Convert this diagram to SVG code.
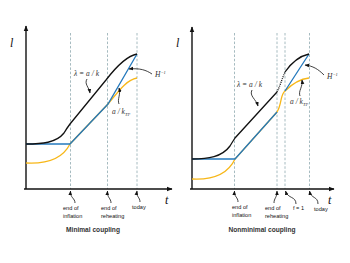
<svg xmlns="http://www.w3.org/2000/svg" width="350" height="263" viewBox="0 0 350 263">
<style>
.ax{stroke:#111;stroke-width:1.4;fill:none}
.dash{stroke:#8fa9b0;stroke-width:0.8;stroke-dasharray:2.5,1.8;fill:none}
.blk{stroke:#111;stroke-width:1.3;fill:none}
.blu{stroke:#2479bd;stroke-width:1.3;fill:none}
.yel{stroke:#f7b718;stroke-width:1.3;fill:none}
.ptr{stroke:#111;stroke-width:0.8;fill:none;marker-end:url(#ah)}
.lbl{font-family:"Liberation Serif",serif;font-style:italic;font-size:7.5px;fill:#333}
.axl{font-family:"Liberation Serif",serif;font-style:italic;font-size:12px;fill:#111}
.hand{font-family:"Liberation Sans",sans-serif;font-size:5.6px;fill:#111}
.cap{font-family:"Liberation Sans",sans-serif;font-weight:bold;font-size:6.6px;fill:#333;text-anchor:middle}
</style>
<defs>
<marker id="ah" viewBox="0 0 10 10" refX="9" refY="5" markerWidth="4.5" markerHeight="4.5" orient="auto" markerUnits="userSpaceOnUse">
<path d="M0,1 L10,5 L0,9 Z" fill="#111"/>
</marker>
<marker id="axh" viewBox="0 0 10 10" refX="9" refY="5" markerWidth="6" markerHeight="6" orient="auto" markerUnits="userSpaceOnUse">
<path d="M0,1 L10,5 L0,9 Z" fill="#111"/>
</marker>
</defs>

<g id="left-panel">
<g id="left-guides">
<line class="dash" x1="70.5" y1="33" x2="70.5" y2="189"/>
<line class="dash" x1="107.5" y1="33" x2="107.5" y2="189"/>
<line class="dash" x1="137" y1="33" x2="137" y2="189"/>
</g>
<g id="left-axes">
<line class="ax" x1="26" y1="189" x2="26" y2="26" marker-end="url(#axh)"/>
<line class="ax" x1="24" y1="189" x2="172" y2="189" marker-end="url(#axh)"/>
<text class="axl" x="10" y="47">l</text>
<text class="axl" x="165" y="204">t</text>
</g>
<g id="left-curves">
<path class="yel" d="M26,163 C45,164 62,160 70,144 L108,104 C118,92 126,80 137,78"/>
<path class="blu" d="M26,144 L70,144 L108,104 L137,54"/>
<path class="blk" d="M26,144 C42,144 56,143 64,133 Q67,128 70,124 L106,80 C116,67 126,56 137,54"/>
</g>
<g id="left-labels">
<text class="lbl" x="74" y="76">λ = a / k</text>
<path class="ptr" d="M87,79 C84,84 89,87 90,93"/>
<text class="lbl" x="155" y="77">H<tspan font-size="4.5" dy="-3">−1</tspan></text>
<path class="ptr" d="M152,74 C146,70 140,68 129,69"/>
<text class="lbl" x="112" y="114">a / k<tspan font-size="4.5" dy="1.5">TP</tspan></text>
<path class="ptr" d="M119,104 C117,99 121,95 119,88"/>
</g>
<g id="left-events">
<path class="ptr" d="M75,203 C75,198 70,198 70.5,191"/>
<text class="hand" x="63" y="210">end of</text>
<text class="hand" x="63" y="217.5">inflation</text>
<path class="ptr" d="M111,203 C111,198 107,198 107.5,191"/>
<text class="hand" x="101" y="210">end of</text>
<text class="hand" x="101" y="218">reheating</text>
<path class="ptr" d="M140,202 C140,197 136,197 137,191"/>
<text class="hand" x="132" y="209">today</text>
</g>
<text class="cap" x="93" y="232">Minimal coupling</text>
</g>

<g id="right-panel">
<g id="right-guides">
<line class="dash" x1="234.5" y1="33" x2="234.5" y2="189"/>
<line class="dash" x1="277" y1="33" x2="277" y2="189"/>
<line class="dash" x1="285" y1="33" x2="285" y2="189"/>
<line class="dash" x1="309.5" y1="33" x2="309.5" y2="189"/>
</g>
<g id="right-axes">
<line class="ax" x1="192" y1="189" x2="192" y2="27" marker-end="url(#axh)"/>
<line class="ax" x1="190" y1="189" x2="334" y2="189" marker-end="url(#axh)"/>
<text class="axl" x="176" y="47">l</text>
<text class="axl" x="328" y="204">t</text>
</g>
<g id="right-curves">
<path class="yel" d="M192,179 C212,180 228,174 235,159 L277,112 C282,104 280,95 285,91 C292,84 300,79 309,78"/>
<path class="blu" d="M192,159 L235,159 L277,112 M285,91 L309,54"/>
<path class="blk" d="M192,159 C208,159 222,157 230,146 Q233,141 235,138 L277,92"/>
<path class="blk" stroke-dasharray="1,1" d="M277,92 C280,86 282,79 285,72"/>
<path class="blk" d="M285,72 C292,62 300,56 309,54"/>
</g>
<g id="right-labels">
<text class="lbl" x="237" y="87">λ = a / k</text>
<path class="ptr" d="M252,90 C249,96 256,99 258,106"/>
<text class="lbl" x="327" y="79">H<tspan font-size="4.5" dy="-3">−1</tspan></text>
<path class="ptr" d="M324,75 C318,69 313,66 305,65"/>
<text class="lbl" x="290" y="104">a / k<tspan font-size="4.5" dy="1.5">TP</tspan></text>
<path class="ptr" d="M300,96 C298,91 303,87 302,80"/>
</g>
<g id="right-events">
<path class="ptr" d="M238,202 C238,197 234,197 234.5,191"/>
<text class="hand" x="232" y="209">end of</text>
<text class="hand" x="232" y="217">inflation</text>
<path class="ptr" d="M274,203 C274,198 277,198 277,191"/>
<text class="hand" x="265" y="210">end of</text>
<text class="hand" x="265" y="218">reheating</text>
<path class="ptr" d="M296,204 C296,196 288,199 285.5,191"/>
<text class="hand" x="293" y="210">f = 1</text>
<path class="ptr" d="M318,204 C318,196 311,199 309.5,191"/>
<text class="hand" x="314" y="211">today</text>
</g>
<text class="cap" x="262" y="232">Nonminimal coupling</text>
</g>
</svg>
